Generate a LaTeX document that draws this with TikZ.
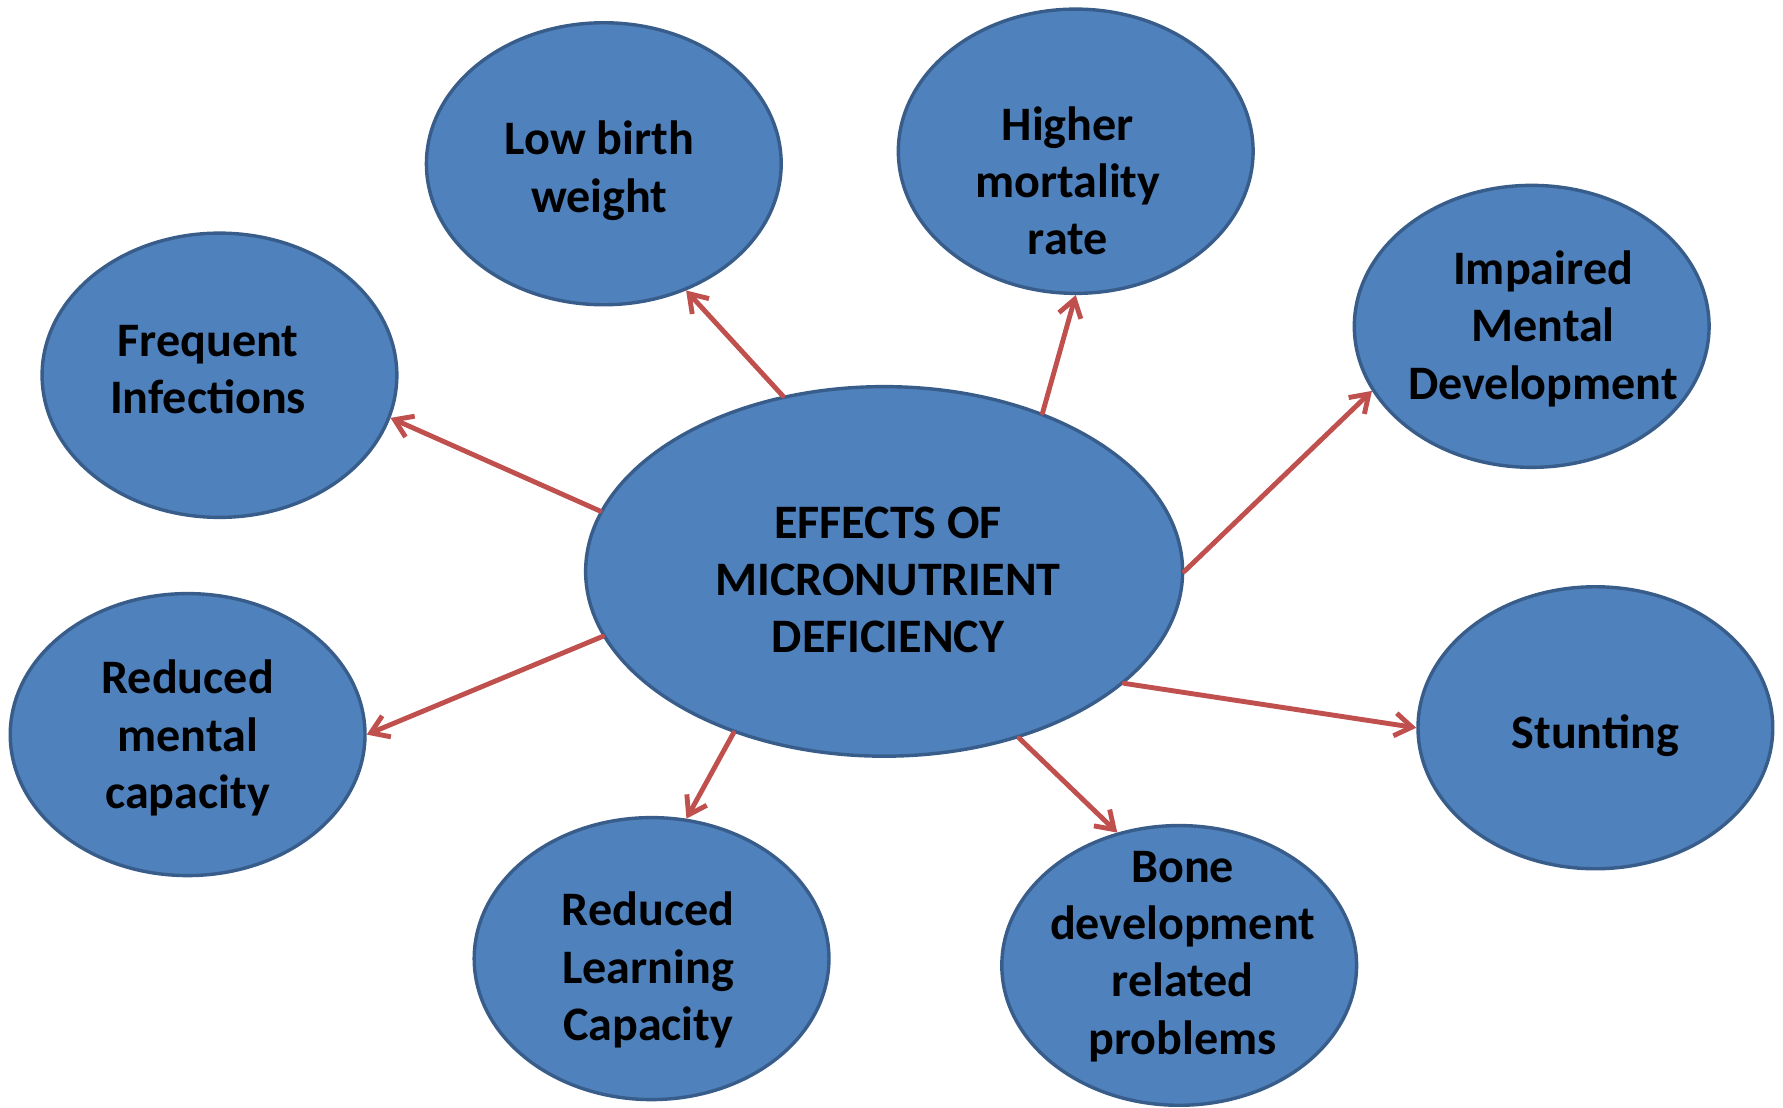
\documentclass[tikz,border=0pt]{standalone}
\usepackage{fontspec}
\setmainfont{Carlito}
\usetikzlibrary{shapes.geometric,arrows.meta}
\definecolor{fillblue}{HTML}{4F81BD}
\definecolor{edgeblue}{HTML}{385D8A}
\definecolor{arrowred}{HTML}{C0504D}
\begin{document}
\begin{tikzpicture}[x=1pt,y=-1pt,
  bubble/.style={ellipse, draw=edgeblue, fill=fillblue, line width=3pt, inner sep=0pt},
  lbl/.style={align=center, font=\fontsize{42.3}{50.5}\selectfont\bfseries, text=black, inner sep=0pt},
  link/.style={draw=arrowred, line width=4.3pt, line cap=round, -{Straight Barb[length=15pt,width=20pt]}}]
\useasboundingbox (0,0) rectangle (1568,974);
% ellipses
\node[bubble, minimum width=525pt, minimum height=325pt] (c) at (777.5,502.5) {};
\node[bubble, minimum width=312pt, minimum height=248pt] (lbw) at (531,144) {};
\node[bubble, minimum width=312pt, minimum height=250pt] (hmr) at (946,133) {};
\node[bubble, minimum width=312pt, minimum height=250pt] (fi) at (193,330) {};
\node[bubble, minimum width=312pt, minimum height=248pt] (imd) at (1347,287) {};
\node[bubble, minimum width=312pt, minimum height=248pt] (rmc) at (165,646) {};
\node[bubble, minimum width=312pt, minimum height=248pt] (stu) at (1403,640) {};
\node[bubble, minimum width=312pt, minimum height=248pt] (rlc) at (573,843) {};
\node[bubble, minimum width=312pt, minimum height=246pt] (bone) at (1037,849) {};
% labels
\node[lbl] (tc) at (781,510) {EFFECTS OF\\MICRONUTRIENT\\DEFICIENCY};
\node[lbl] (tlbw) at (527,150) {Low birth\\weight};
\node[lbl] (thmr) at (939,159) {Higher\\mortality\\rate};
\node[lbl] (tfi) at (183,325) {Frequent\\Infections};
\node[lbl] (timd) at (1357,289) {Impaired\\Mental\\Development};
\node[lbl] (trmc) at (165,649) {Reduced\\mental\\capacity};
\node[lbl] (tstu) at (1403,647) {Stunting};
\node[lbl] (trlc) at (570,853) {Reduced\\Learning\\Capacity};
\node[lbl] (tbone) at (1040,841) {Bone\\development\\related\\problems};
% connectors
\draw[link] (c.120.5) -- (lbw.303.2);
\draw[link] (c.45.2) -- (hmr.270);
\draw[link] (c.168.6) -- (fi.346.7);
\draw[link] (c.0) -- (imd.202.3);
\draw[link] (c.193.7) -- (rmc.0);
\draw[link] (c.335.9) -- (stu.180);
\draw[link] (c.227.5) -- (rlc.76.5);
\draw[link] (c.309.6) -- (bone.115.8);
\end{tikzpicture}
\end{document}
